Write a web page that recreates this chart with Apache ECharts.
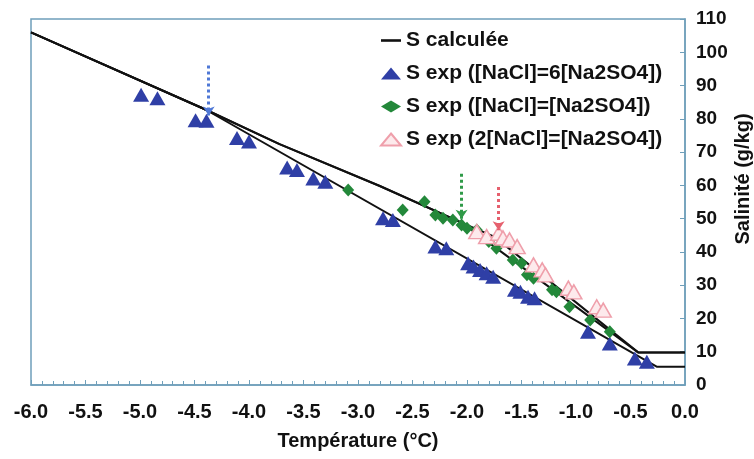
<!DOCTYPE html>
<html>
<head>
<meta charset="utf-8">
<script src="https://cdn.jsdelivr.net/npm/echarts@6/dist/echarts.min.js"></script>
<style>
  html, body { margin: 0; padding: 0; background: #fff; }
  #chart { width: 754px; height: 459px; }
</style>
</head>
<body>
<div id="chart"></div>
<script>
// courbes calculées [T, S]
const calcBlue = [[-6.0, 106], [-4.4, 82.8], [-0.26, 5.5], [0, 5.5]]
const calcGreen = [[-6.0, 106], [-4.4, 82.8], [-3.72, 72.4], [-2.8, 59.8], [-2.05, 48.8], [-0.43, 9.8], [0, 9.8]]
const calcRed = [[-6.0, 106], [-4.4, 82.8], [-3.72, 72.4], [-2.8, 59.8], [-2.05, 48.8], [-1.75, 44.6], [-0.43, 9.8], [0, 9.8]]

// mesures
const expBlue = [
  [-4.99, 87.2], [-4.84, 86.2], [-4.49, 79.6], [-4.39, 79.4], [-4.11, 74.2], [-4.0, 73.2],
  [-3.65, 65.4], [-3.56, 64.6], [-3.41, 62.1], [-3.30, 61.1], [-2.77, 50.1], [-2.68, 49.6],
  [-2.29, 41.6], [-2.19, 41.1], [-1.99, 36.6], [-1.94, 35.6], [-1.88, 34.6], [-1.82, 33.6],
  [-1.76, 32.5], [-1.56, 28.6], [-1.51, 28.0], [-1.44, 26.5], [-1.38, 26.1], [-0.89, 16.0],
  [-0.69, 12.5], [-0.46, 8.0], [-0.35, 7.0]
]
const expGreen = [
  [-3.09, 58.6], [-2.59, 52.6], [-2.39, 55.1], [-2.29, 51.1], [-2.22, 50.1], [-2.13, 49.6],
  [-2.05, 48.1], [-2.0, 47.1], [-1.91, 46.6], [-1.80, 43.1], [-1.73, 41.1], [-1.58, 37.6],
  [-1.50, 36.6], [-1.45, 33.1], [-1.39, 32.1], [-1.22, 28.6], [-1.18, 28.0], [-1.06, 23.5],
  [-0.87, 19.5], [-0.69, 16.0]
]
const expRed = [
  [-1.91, 46.1], [-1.82, 44.6], [-1.71, 45.6], [-1.67, 44.2], [-1.61, 43.6], [-1.54, 41.6],
  [-1.39, 36.1], [-1.31, 34.6], [-1.28, 33.1], [-1.07, 29.1], [-1.02, 28.0], [-0.81, 23.5],
  [-0.75, 22.5]
]

// flèches pointillées [T, S début, S fin]
const arrowBlue = [-4.37, 96, 81]
const arrowGreen = [-2.05, 63.5, 50]
const arrowRed = [-1.71, 59.5, 46.5]

const xTicks = ['-6.0', '-5.5', '-5.0', '-4.5', '-4.0', '-3.5', '-3.0', '-2.5', '-2.0', '-1.5', '-1.0', '-0.5', '0.0']

const font = 'Liberation Sans, Arial, sans-serif'
const axisColor = '#6f9fba'

function arrow(a, color) {
  return {
    silent: true,
    symbol: ['none', 'arrow'],
    symbolSize: 9,
    label: { show: false },
    lineStyle: { type: 'dotted', width: 3, color: color },
    data: [[{ coord: [a[0], a[1]] }, { coord: [a[0], a[2]] }]]
  }
}

function calcLine(data) {
  return {
    name: 'S calculée',
    type: 'line',
    data: data,
    symbol: 'none',
    lineStyle: { color: '#111', width: 2 },
    itemStyle: { color: '#111' },
    z: 2
  }
}

const chart = echarts.init(document.getElementById('chart'))
chart.setOption({
  animation: false,
  backgroundColor: '#fff',
  textStyle: { fontFamily: font },
  grid: {
    left: 31, top: 19, right: 69, bottom: 74,
    outerBoundsMode: 'none',
    show: true, borderColor: axisColor, borderWidth: 1.5
  },
  legend: {
    orient: 'vertical',
    left: 375,
    top: 25,
    itemGap: 12,
    itemWidth: 20,
    itemHeight: 12,
    textStyle: { fontSize: 21, fontWeight: 'bold', color: '#111', fontFamily: font },
    data: [
      { name: 'S calculée', icon: 'path://M0,0 L20,0 L20,2.6 L0,2.6 Z' },
      'S exp ([NaCl]=6[Na2SO4])',
      'S exp ([NaCl]=[Na2SO4])',
      'S exp (2[NaCl]=[Na2SO4])'
    ]
  },
  xAxis: {
    type: 'value',
    min: -6,
    max: 0,
    interval: 0.5,
    name: 'Température (°C)',
    nameLocation: 'middle',
    nameGap: 46,
    nameTextStyle: { fontSize: 20, fontWeight: 'bold', color: '#111' },
    axisLine: { onZero: false, lineStyle: { color: axisColor, width: 1.5 } },
    axisTick: { inside: true, length: 5, lineStyle: { color: axisColor } },
    minorTick: { show: true, splitNumber: 5, length: 4, lineStyle: { color: axisColor } },
    splitLine: { show: false },
    axisLabel: {
      margin: 17,
      fontSize: 20,
      fontWeight: 'bold',
      color: '#111',
      formatter: function (v) {
        const i = Math.round((v + 6) / 0.5)
        return xTicks[i] !== undefined ? xTicks[i] : ''
      }
    }
  },
  yAxis: {
    type: 'value',
    position: 'right',
    min: 0,
    max: 110,
    interval: 10,
    name: 'Salinité (g/kg)',
    nameLocation: 'middle',
    nameRotate: 90,
    nameGap: 48,
    nameMoveOverlap: false,
    nameTextStyle: { fontSize: 20, fontWeight: 'bold', color: '#111', padding: [0, 0, 0, 46] },
    axisLine: { show: true, lineStyle: { color: axisColor, width: 1.5 } },
    axisTick: { show: true, inside: true, length: 5, lineStyle: { color: axisColor } },
    splitLine: { show: false },
    axisLabel: { margin: 11, fontSize: 19, fontWeight: 'bold', color: '#111' }
  },
  series: [
    calcLine(calcBlue),
    calcLine(calcGreen),
    calcLine(calcRed),
    {
      name: 'S exp ([NaCl]=6[Na2SO4])',
      type: 'scatter',
      data: expBlue,
      symbol: 'triangle',
      symbolSize: [16, 14],
      itemStyle: { color: '#2f3fa6', opacity: 1 },
      markLine: arrow(arrowBlue, '#4f78d6'),
      z: 3
    },
    {
      name: 'S exp ([NaCl]=[Na2SO4])',
      type: 'scatter',
      data: expGreen,
      symbol: 'diamond',
      symbolSize: [12, 13],
      itemStyle: { color: '#23883a', opacity: 1 },
      markLine: arrow(arrowGreen, '#2f9a48'),
      z: 3
    },
    {
      name: 'S exp (2[NaCl]=[Na2SO4])',
      type: 'scatter',
      data: expRed,
      symbol: 'triangle',
      symbolSize: [16, 14],
      itemStyle: { color: '#fdeaec', borderColor: '#ef9fab', borderWidth: 1.5, opacity: 1 },
      markLine: arrow(arrowRed, '#e6606e'),
      z: 4
    }
  ]
})
</script>
</body>
</html>
